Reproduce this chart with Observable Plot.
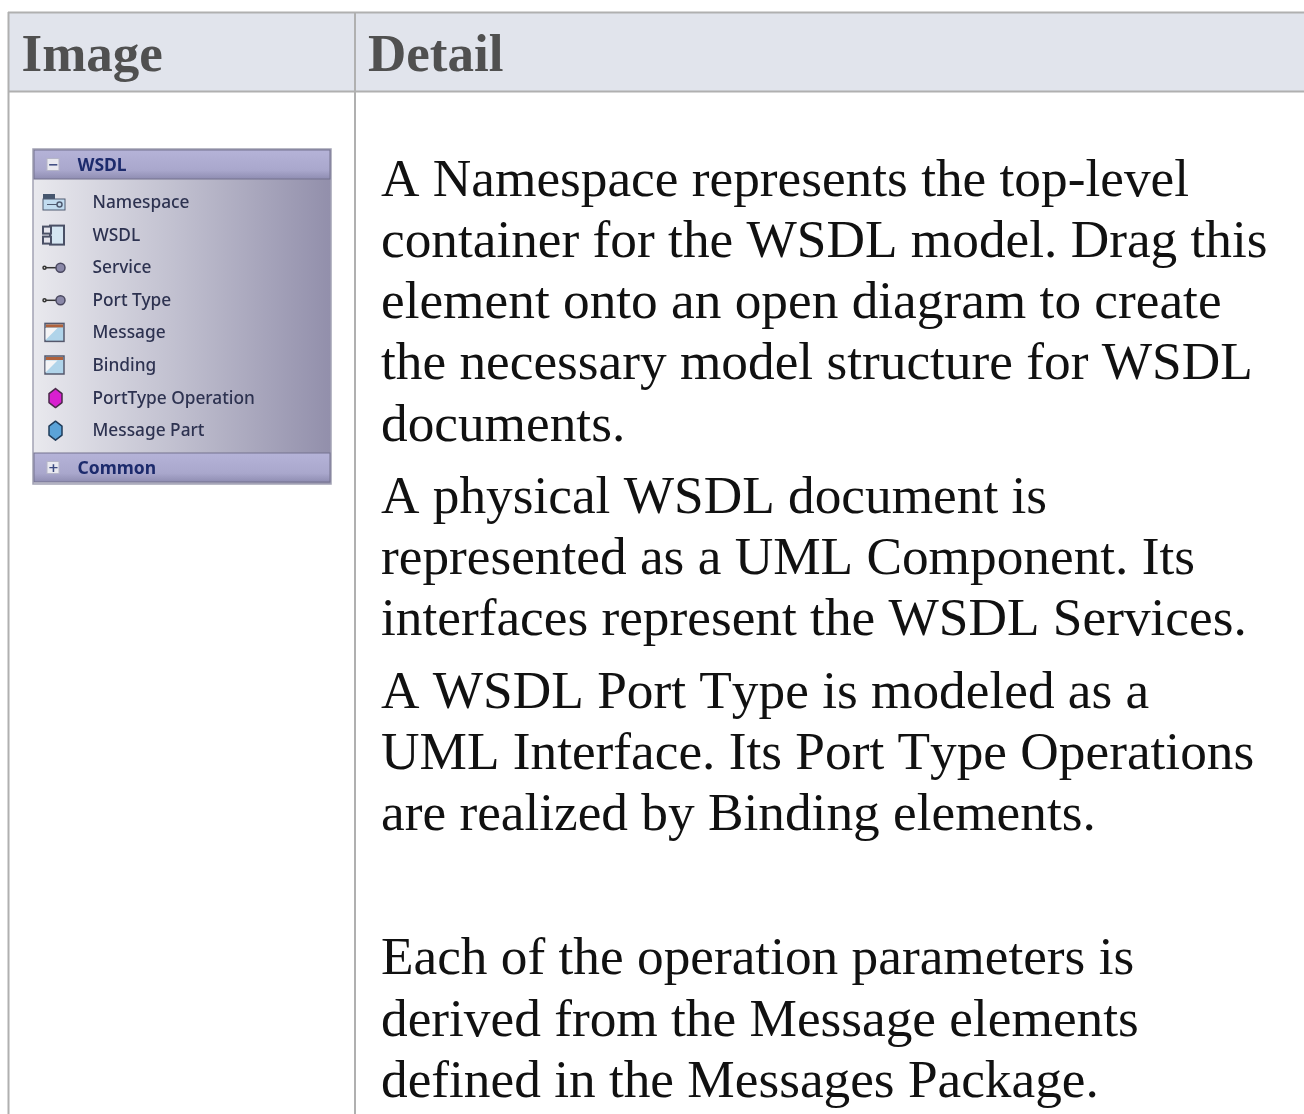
<!DOCTYPE html>
<html>
<head>
<meta charset="utf-8">
<style>html,body{margin:0;padding:0;background:#fff}svg{display:block}.tb{filter:blur(.45px)}.body-text{font-kerning:none}</style>
<script src="https://cdn.jsdelivr.net/npm/d3@7"></script>
<script src="https://cdn.jsdelivr.net/npm/@observablehq/plot@0.6"></script>
</head>
<body>
<script>
// Content
const headers = ["Image", "Detail"];
const paragraphs = [
  ["A Namespace represents the top-level", "container for the WSDL model. Drag this", "element onto an open diagram to create", "the necessary model structure for WSDL", "documents."],
  ["A physical WSDL document is", "represented as a UML Component. Its", "interfaces represent the WSDL Services."],
  ["A WSDL Port Type is modeled as a", "UML Interface. Its Port Type Operations", "are realized by Binding elements."],
  [],
  ["Each of the operation parameters is", "derived from the Message elements", "defined in the Messages Package."]
];
const toolItems = ["Namespace", "WSDL", "Service", "Port Type", "Message", "Binding", "PortType Operation", "Message Part"];
const iconKinds = ["namespace", "component", "interface", "interface", "window", "window", "purple", "blue"];
const groups = ["WSDL", "Common"];

// Layout
const W = 1304, H = 1114;
const col = [8, 354.5, W];
const headTop = 12, headBottom = 91;
const lineStep = 61.3, paraGap = 10.8, firstLine = 178;
const tb = {x1: 33, x2: 331, y1: 149, y2: 484, head: 30, foot: 453};
const rowY = i => 202 + i * 32.6;

let cursor = firstLine;
const bodyLines = [];
paragraphs.forEach(p => {
  if (p.length === 0) { cursor += lineStep + paraGap; return; }
  p.forEach(text => { bodyLines.push({text, y: cursor}); cursor += lineStep; });
  cursor += paraGap;
});

const rows = toolItems.map((name, i) => ({name, kind: iconKinds[i], y: rowY(i)}));
const ofKind = (...k) => rows.filter(r => k.includes(r.kind));
const iconX = 54;
const polygon = (kind, cx, pts) => ofKind(kind).flatMap((r, n) => pts.map(([dx, dy]) => ({x: cx + dx, y: r.y + dy, z: n})));
const hexPts = [[0, -9.5], [6.5, -4.5], [6.5, 4.5], [0, 9.5], [-6.5, 4.5], [-6.5, -4.5], [0, -9.5]];
const sheenPts = [[-9, -5], [3, -5], [-9, 7], [-9, -5]];
const defs = () => {
  const d = d3.create("svg:defs");
  const g = d.append("linearGradient").attr("id", "panel");
  [[0, "#e9e9ee"], [0.5, "#bfbece"], [1, "#928fab"]].forEach(([o, c]) => g.append("stop").attr("offset", o).attr("stop-color", c));
  const v = d.append("linearGradient").attr("id", "strip").attr("x2", 0).attr("y2", 1);
  [[0, "#b5b3d8"], [0.7, "#a9a7cc"], [1, "#8f8db2"]].forEach(([o, c]) => v.append("stop").attr("offset", o).attr("stop-color", c));
  return d.node();
};

const strips = [
  {name: groups[0], y1: tb.y1 + 1, y2: tb.y1 + tb.head, sign: "\u2212"},
  {name: groups[1], y1: tb.foot, y2: tb.y2 - 2, sign: "+"}
];
const t = {className: "tb"};

const chart = Plot.plot({
  width: W, height: H,
  marginTop: 0, marginRight: 0, marginBottom: 0, marginLeft: 0,
  x: {domain: [0, W], range: [0, W], axis: null},
  y: {domain: [0, H], range: [0, H], axis: null},
  style: {background: "#fff"},
  marks: [
    defs,
    // table
    Plot.rect([0], {x1: col[0], x2: col[2], y1: headTop, y2: headBottom, fill: "#e1e4ec"}),
    Plot.ruleY([headTop, headBottom], {x1: col[0], x2: col[2], stroke: "#b0b0b0", strokeWidth: 2}),
    Plot.ruleX([col[0], col[1]], {y1: headTop, y2: H, stroke: "#b0b0b0", strokeWidth: 2}),
    Plot.text(headers, {
      x: (d, i) => col[i] + 13, y: 54, text: d => d, textAnchor: "start", lineAnchor: "middle",
      fontFamily: "Liberation Serif", fontWeight: "bold", fontSize: 53, fill: "#505050"
    }),
    Plot.text(bodyLines, {
      className: "body-text",
      x: 380.5, y: "y", text: "text", textAnchor: "start", lineAnchor: "middle",
      fontFamily: "Liberation Serif", fontSize: 53.3, fill: "#111"
    }),
    // toolbox panel
    Plot.rect([0], {...t, x1: tb.x1, x2: tb.x2, y1: tb.y1, y2: tb.y2, fill: "url(#panel)", stroke: "#a2a2b4", strokeWidth: 1.5}),
    Plot.rect(strips, {...t, x1: tb.x1 + 1, x2: tb.x2 - 1, y1: "y1", y2: "y2", fill: "url(#strip)", stroke: "#74728f", strokeWidth: 1}),
    Plot.rect(strips, {...t, x1: 47, x2: 59, y1: d => (d.y1 + d.y2) / 2 - 6, y2: d => (d.y1 + d.y2) / 2 + 6, fill: "#e9e9f0", stroke: "#b5b5c8"}),
    Plot.text(strips, {...t, x: 53, y: d => (d.y1 + d.y2) / 2, text: "sign", fontFamily: "DejaVu Sans", fontSize: 13, fontWeight: "bold", fill: "#3c4a80"}),
    Plot.text(strips, {...t,
      x: 77, y: d => (d.y1 + d.y2) / 2, text: "name", textAnchor: "start",
      fontFamily: "Noto Sans", fontWeight: "bold", fontSize: 17.5, fill: "#1c2a6c"
    }),
    Plot.text(rows, {...t,
      x: 92, y: "y", text: "name", textAnchor: "start",
      fontFamily: "Noto Sans", fontWeight: 500, fontSize: 17.3, fill: "#2d3250"
    }),
    // icons
    Plot.rect(ofKind("namespace"), {...t, x1: iconX - 11, x2: iconX + 1, y1: d => d.y - 8, y2: d => d.y - 3, fill: "#46566e"}),
    Plot.rect(ofKind("namespace"), {...t, x1: iconX - 11, x2: iconX + 11, y1: d => d.y - 3, y2: d => d.y + 8, fill: "#c2dcf0", stroke: "#4f5a70"}),
    Plot.ruleY(ofKind("namespace"), {...t, y: d => d.y + 2, x1: iconX - 7, x2: iconX + 3, stroke: "#4f5a70"}),
    Plot.dot(ofKind("namespace"), {...t, x: iconX + 5, y: d => d.y + 2, r: 2.5, fill: "#c2dcf0", stroke: "#4f5a70"}),
    Plot.rect(ofKind("component"), {...t, x1: iconX - 4, x2: iconX + 10, y1: d => d.y - 9, y2: d => d.y + 10, fill: "#d5e6f2", stroke: "#4a5066", strokeWidth: 2}),
    Plot.rect(ofKind("component"), {...t, x1: iconX - 11, x2: iconX - 3, y1: d => d.y - 8, y2: d => d.y - 1, fill: "#e4e4ec", stroke: "#4a5066", strokeWidth: 2}),
    Plot.rect(ofKind("component"), {...t, x1: iconX - 11, x2: iconX - 3, y1: d => d.y + 2, y2: d => d.y + 9, fill: "#e4e4ec", stroke: "#4a5066", strokeWidth: 2}),
    Plot.ruleY(ofKind("interface"), {...t, y: "y", x1: iconX - 9, x2: iconX + 4, stroke: "#333", strokeWidth: 1.5}),
    Plot.dot(ofKind("interface"), {...t, x: iconX - 10, y: "y", r: 1.5, fill: "#eee", stroke: "#333"}),
    Plot.dot(ofKind("interface"), {...t, x: iconX + 6, y: "y", r: 4.5, fill: "#8a88a8", stroke: "#4a4860", strokeWidth: 1.5}),
    Plot.rect(ofKind("window"), {...t, x1: iconX - 9, x2: iconX + 10, y1: d => d.y - 9, y2: d => d.y + 9, fill: "#b0d4ea", stroke: "#55586c", strokeWidth: 1.5}),
    Plot.line(polygon("window", iconX, sheenPts), {...t, x: "x", y: "y", z: "z", fill: "#f4f4f6", stroke: "none"}),
    Plot.rect(ofKind("window"), {...t, x1: iconX - 8, x2: iconX + 9, y1: d => d.y - 8, y2: d => d.y - 5, fill: "#b0623c"}),
    Plot.line(polygon("purple", iconX + 1, hexPts), {...t, x: "x", y: "y", z: "z", fill: "#d81fd0", stroke: "#4a2a4a", strokeWidth: 1.5}),
    Plot.line(polygon("blue", iconX + 1, hexPts), {...t, x: "x", y: "y", z: "z", fill: "#5ba3d8", stroke: "#1f3c5a", strokeWidth: 1.5})
  ]
});
document.body.appendChild(chart);
</script>
</body>
</html>
